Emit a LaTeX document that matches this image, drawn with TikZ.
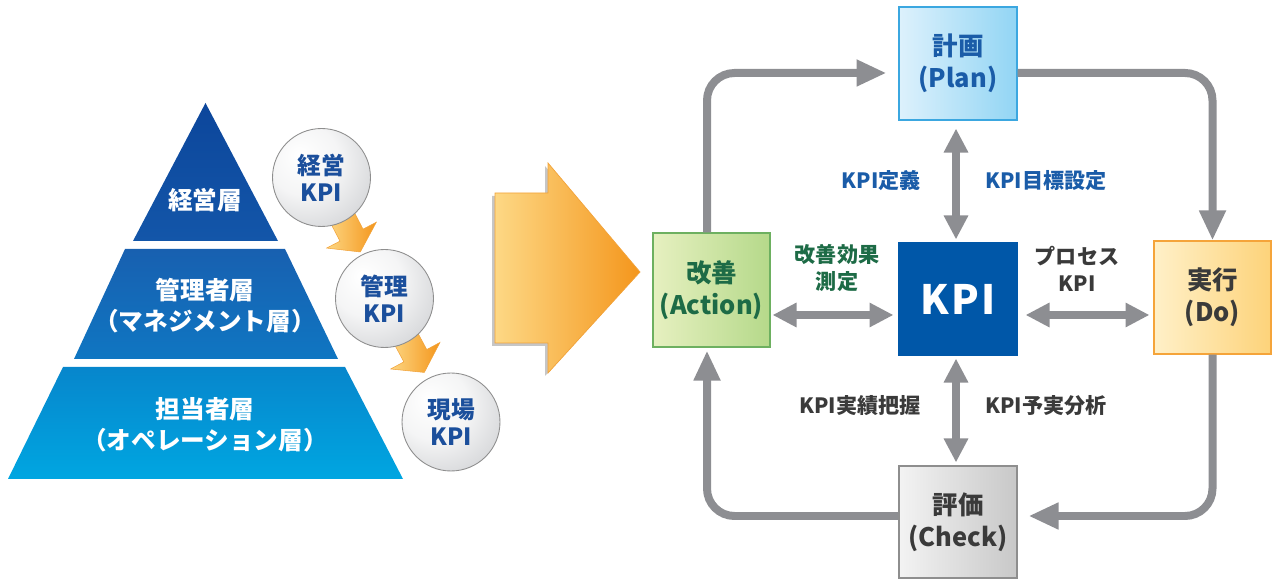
\documentclass[tikz,border=0pt]{standalone}
\usepackage{fontspec}
\setmainfont{Noto Sans CJK JP}
\usetikzlibrary{arrows.meta,calc,backgrounds}

\definecolor{kpiblue}{HTML}{0057A8}
\definecolor{labelblue}{HTML}{1A5CA8}
\definecolor{labelgreen}{HTML}{1D6B46}
\definecolor{labeldark}{HTML}{3A3A3A}
\definecolor{loopgray}{HTML}{8D8E92}
\definecolor{balltext}{HTML}{1B4F9C}
\definecolor{ballgray}{HTML}{BABCC0}
\definecolor{ballrim}{HTML}{8E8E8E}
\definecolor{arrowlight}{HTML}{FDD885}
\definecolor{arrowdark}{HTML}{F4961C}
\definecolor{arrowrim}{HTML}{F2A33A}

\pgfdeclareradialshading{ballshade}{\pgfpoint{-12bp}{12bp}}{%
  color(0bp)=(white); color(18bp)=(white!85!ballgray);
  color(52bp)=(ballgray); color(75bp)=(ballgray)}

% one step of the KPI cascade, drawn between two balls
\newcommand\kpistep[2]{%
  \coordinate (s) at ($(#1)!0.68cm!(#2)$);
  \coordinate (h) at ($(#1)!1.30cm!(#2)$);
  \coordinate (t) at ($(#1)!1.68cm!(#2)$);
  \shade[left color=arrowlight, right color=arrowdark, draw=arrowrim, line width=0.3pt]
    ($(s)!0.26cm!90:(#2)$) -- ($(h)!0.26cm!90:(#2)$) -- ($(h)!0.56cm!90:(#2)$) -- (t)
    -- ($(h)!0.56cm!-90:(#2)$) -- ($(h)!0.26cm!-90:(#2)$) -- ($(s)!0.26cm!-90:(#2)$) -- cycle;
}

\tikzset{
  phase/.style={draw, line width=0.6pt, minimum width=2.36cm, minimum height=2.26cm,
    align=center, font=\bfseries\fontsize{14.5}{18}\selectfont},
  loop/.style={draw=loopgray, line width=0.16cm, rounded corners=0.55cm,
    >={Triangle[length=0.6cm,width=0.5cm]}, ->},
  link/.style={draw=loopgray, line width=0.16cm,
    >={Triangle[length=0.48cm,width=0.46cm]}, <->},
  lbl/.style={inner sep=0pt, align=center, font=\bfseries\fontsize{12}{15.4}\selectfont},
  kpiball/.style={circle, draw=ballrim, line width=0.5pt, minimum size=1.96cm, inner sep=0pt,
    shade, shading=ballshade, align=center, text=balltext,
    font=\bfseries\fontsize{13.5}{15.5}\selectfont},
  tier/.style={text=white, align=center, font=\bfseries\fontsize{14}{17.6}\selectfont}
}

\begin{document}
\begin{tikzpicture}[x=0.02cm, y=-0.02cm]
  \useasboundingbox (0,0) rectangle (1278,580);

  % pyramid of layers
  \shade[top color={rgb,255:red,12;green,70;blue,155}, bottom color={rgb,255:red,19;green,86;blue,169}]
    (205.5,103) -- (278,241) -- (133,241) -- cycle;
  \shade[top color={rgb,255:red,24;green,96;blue,176}, bottom color={rgb,255:red,15;green,118;blue,194}]
    (125,249) -- (285,249) -- (338,359) -- (74,359) -- cycle;
  \shade[top color={rgb,255:red,7;green,134;blue,204}, bottom color={rgb,255:red,0;green,166;blue,225}]
    (63,367) -- (345,367) -- (403,479) -- (8,479) -- cycle;
  \node[tier] (top) at (205,200) {経営層};
  \node[tier] (mid) at (205,306) {管理者層\\（マネジメント層）};
  \node[tier] (base) at (205,425) {担当者層\\（オペレーション層）};

  % KPI balls
  \node[kpiball] (b1) at (321.5,177.5) {経営\\KPI};
  \node[kpiball] (b2) at (384.5,298.5) {管理\\KPI};
  \node[kpiball] (b3) at (451,422) {現場\\KPI};
  \begin{pgfonlayer}{background}
    \kpistep{b1}{b2}
    \kpistep{b2}{b3}
  \end{pgfonlayer}

  % big arrow
  \fill[gray!45] (492,196) -- (545,196) -- (545,166) -- (637,275) -- (545,376) -- (545,346) -- (492,346) -- cycle;
  \shade[left color=arrowlight, right color=arrowdark, draw=arrowrim, line width=0.4pt]
    (495,193) -- (548,193) -- (548,163) -- (640,272) -- (548,373) -- (548,343) -- (495,343) -- cycle;

  % PDCA cycle
  \node[phase, draw={rgb,255:red,59;green,167;blue,224}, left color={rgb,255:red,221;green,241;blue,252},
    right color={rgb,255:red,146;green,213;blue,244}, text=labelblue] (plan) at (958,63.5) {計画\\(Plan)};
  \node[phase, draw=kpiblue, fill=kpiblue, text=white, minimum height=2.24cm,
    font=\bfseries\fontsize{23}{26}\selectfont] (kpi) at (958,299) {K\kern1.5pt P\kern1.5pt I};
  \node[phase, draw={rgb,255:red,109;green,176;blue,96}, left color={rgb,255:red,230;green,240;blue,192},
    right color={rgb,255:red,181;green,217;blue,138}, text=labelgreen, minimum width=2.34cm,
    minimum height=2.28cm] (act) at (711.5,290) {改善\\(Action)};
  \node[phase, draw={rgb,255:red,245;green,164;blue,58}, left color={rgb,255:red,255;green,240;blue,200},
    right color={rgb,255:red,253;green,211;blue,122}, text=labeldark, minimum width=2.34cm] (do) at (1212.5,297.5) {実行\\(Do)};
  \node[phase, draw=ballrim, left color={rgb,255:red,243;green,243;blue,243},
    right color={rgb,255:red,200;green,200;blue,200}, text=labeldark, minimum height=2.24cm] (chk) at (958,522) {評価\\(Check)};

  \draw[loop, shorten >=0.24cm] ([xshift=-0.09cm]act.north) |- ([yshift=-0.19cm]plan.west);
  \draw[loop] ([yshift=-0.19cm]plan.east) -| (do.north);
  \draw[loop, shorten >=0.22cm] (do.south) |- ([yshift=0.12cm]chk.east);
  \draw[loop, shorten >=0.06cm] ([yshift=0.12cm]chk.west) -| ([xshift=-0.09cm]act.south);

  \draw[link, shorten <=0.16cm, shorten >=0.06cm] ([xshift=-0.04cm]plan.south) -- ([xshift=-0.04cm]kpi.north);
  \draw[link, shorten <=0.06cm, shorten >=0.06cm] ([xshift=-0.04cm]kpi.south) -- ([xshift=-0.04cm]chk.north);
  \draw[link, shorten <=0.04cm, shorten >=0.1cm] ([yshift=-0.5cm]act.east) -- ([yshift=-0.5cm]act.east -| kpi.west);
  \draw[link, shorten <=0.16cm, shorten >=0.08cm] ([yshift=-0.32cm]kpi.east) -- ([yshift=-0.32cm]kpi.east -| do.west);

  \node[lbl, text=labelblue, anchor=east] (def) at (921,181) {KPI定義};
  \node[lbl, text=labelblue, anchor=west] (goal) at (985,181) {KPI目標設定};
  \node[lbl, text=labelgreen] (effect) at (837,268) {改善効果\\測定};
  \node[lbl, text=labeldark] (proc) at (1077,269) {プロセス\\KPI};
  \node[lbl, text=labeldark, anchor=east] (actual) at (921,406) {KPI実績把握};
  \node[lbl, text=labeldark, anchor=west] (gap) at (985,406) {KPI予実分析};
\end{tikzpicture}
\end{document}
